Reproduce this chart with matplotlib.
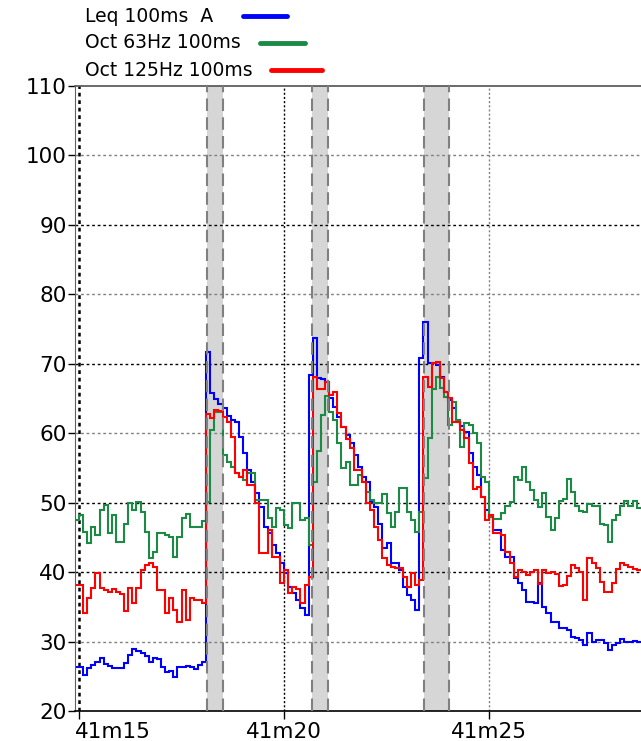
import numpy as np
import matplotlib.pyplot as plt
import matplotlib.transforms as mtransforms
from matplotlib.lines import Line2D

plt.rcParams['font.family'] = ['DejaVu Sans']

# 100 ms steps, time in seconds after 41m00
t0 = 14.9
dt = 0.1

leq_a = [26.3, 26.3, 25.2, 26.2, 26.6, 27.1, 27.6, 26.8, 26.5, 26.2, 26.2, 26.2, 26.9, 28.1, 28.9, 28.6,
         28.4, 27.9, 27.1, 27.6, 27.5, 26.3, 25.6, 25.8, 24.9, 26.3, 26.3, 26.5, 26.3, 26.0, 26.6, 27.1,
         71.7, 65.8, 65.0, 64.2, 63.7, 62.5, 61.9, 61.6, 59.5, 57.2, 54.7, 53.0, 51.4, 49.4, 46.5, 45.6,
         43.9, 42.8, 41.3, 39.9, 37.9, 37.0, 36.0, 34.8, 33.8,
         68.4, 73.7, 68.0, 67.8, 67.4, 65.1, 63.8, 62.4, 60.9, 59.8, 58.6, 56.9, 55.2, 53.7, 53.0, 50.1,
         49.4, 47.0, 43.5, 44.2, 41.3, 41.3, 40.3, 37.9, 36.7, 36.0, 34.6,
         70.9, 76.0, 70.1, 70.1, 69.8, 68.1, 66.0, 64.8, 63.7, 61.6, 61.0, 60.2, 57.2, 55.2, 54.0, 50.8,
         49.0, 48.0, 46.1, 46.1, 43.2, 42.2, 42.2, 39.2, 38.4, 37.4, 35.7, 35.7, 35.5, 38.5, 35.0, 34.1,
         32.8, 32.8, 32.0, 32.0, 31.7, 30.7, 30.5, 30.2, 29.5, 31.2, 30.0, 30.2, 30.2, 29.8, 28.8, 29.5,
         29.8, 30.3, 30.0, 29.9, 30.1, 30.0]

oct63 = [47.5, 48.2, 45.8, 44.2, 46.5, 45.4, 49.0, 49.6, 45.6, 48.2, 44.4, 44.4, 47.0, 50.0, 49.0, 50.1,
         48.7, 45.8, 42.0, 42.9, 45.6, 45.6, 45.4, 45.0, 42.2, 45.1, 47.8, 48.3, 46.5, 46.5, 46.5, 47.3,
         50.1, 60.5, 63.1, 63.0, 56.9, 55.9, 55.2, 54.3, 53.7, 53.3, 54.3, 54.3, 50.4, 50.4, 50.4, 47.8,
         46.5, 49.2, 49.0, 46.8, 46.4, 50.0, 50.0, 47.5, 47.8,
         43.9, 53.0, 57.5, 62.6, 65.3, 63.0, 61.9, 58.6, 55.0, 55.8, 52.6, 52.5, 54.0, 53.0, 51.5, 50.4,
         50.0, 50.0, 51.2, 48.5, 46.5, 48.7, 52.1, 52.1, 48.7, 47.5, 45.8,
         48.7, 53.5, 59.3, 66.3, 68.1, 66.5, 65.2, 61.2, 64.5, 61.9, 58.0, 61.5, 61.2, 60.1, 58.6, 53.7,
         53.0, 48.0, 47.6, 47.6, 48.5, 49.5, 50.1, 53.7, 53.3, 55.2, 53.0, 51.8, 50.4, 49.4, 51.4, 48.0,
         46.1, 47.8, 50.2, 50.6, 53.4, 51.6, 49.5, 48.8, 48.6, 49.8, 49.5, 49.5, 47.0, 46.8, 44.3, 47.5,
         48.2, 49.5, 50.3, 49.5, 50.3, 49.3]

oct125 = [38.2, 38.2, 34.1, 36.3, 37.7, 39.9, 37.7, 37.4, 37.1, 37.5, 37.1, 36.8, 34.4, 37.7, 35.6, 37.7,
          40.3, 41.0, 41.3, 40.8, 37.4, 37.4, 34.1, 36.3, 34.6, 32.8, 37.4, 33.1, 36.3, 36.0, 36.0, 35.6,
          62.7, 62.2, 63.4, 63.2, 62.4, 61.6, 59.5, 54.3, 53.7, 54.7, 52.6, 52.6, 50.0, 42.8, 42.8, 46.1,
          42.2, 42.2, 38.4, 40.3, 37.0, 37.9, 37.5, 35.6, 38.2,
          39.3, 68.1, 66.3, 66.3, 67.4, 65.5, 66.0, 62.9, 60.9, 59.1, 57.9, 54.7, 54.7, 53.0, 50.0, 49.0,
          46.5, 44.6, 42.0, 41.0, 40.8, 40.6, 40.6, 39.3, 37.9, 39.9, 38.2,
          38.8, 68.1, 66.7, 70.1, 70.3, 68.0, 66.0, 65.1, 61.6, 61.6, 60.5, 59.3, 55.7, 52.0, 52.3, 50.8,
          47.5, 48.2, 45.6, 45.6, 45.3, 42.9, 41.3, 39.3, 40.3, 40.0, 39.6, 40.0, 40.3, 38.3, 40.3, 39.9,
          40.0, 39.8, 38.0, 38.2, 39.5, 41.0, 40.6, 40.0, 36.0, 42.0, 41.3, 40.6, 38.6, 37.2, 37.2, 38.5,
          40.5, 41.3, 41.0, 40.7, 40.4, 40.3]

series_names = ['Leq 100ms  A', 'Oct 63Hz 100ms', 'Oct 125Hz 100ms']
series_colors = ['#0000ff', '#1b8a45', '#ff0000']

# marked events (start, end) in seconds
events = [(18.12, 18.51), (20.68, 21.07), (23.42, 24.02)]

yticks = [20, 30, 40, 50, 60, 70, 80, 90, 100, 110]
xticks = [15, 20, 25]
xlabels = ['41m15', '41m20', '41m25']

W, H = 641, 741
fig = plt.figure(figsize=(W / 100, H / 100), dpi=100)
ax = fig.add_axes([75 / W, 30 / H, 566 / W, 625 / H])

# horizontal grid
for y in yticks[1:-1]:
    c = 'black' if y in (40, 50, 70, 90) else '#808080'
    ax.axhline(y, color=c, ls=(0, (2, 2)), lw=1, zorder=1)
# vertical grid
ax.axvline(15, color='black', ls=(0, (1.5, 1.5)), lw=1.8, zorder=1)
ax.axvline(20, color='black', ls=(0, (1.5, 1.5)), lw=1, zorder=1)
ax.axvline(25, color='#808080', ls=(0, (1.5, 1.5)), lw=1, zorder=1)

for a, b in events:
    ax.axvspan(a, b, color='#d6d6d6', lw=0, zorder=0.5)

data = [leq_a, oct63, oct125]
for vals, c in zip(data, series_colors):
    edges = t0 + dt * np.arange(len(vals) + 1)
    ax.stairs(vals, edges, color=c, lw=1.5, baseline=None, zorder=2)

for a, b in events:
    ax.axvline(a, color='#808080', ls=(0, (6, 3)), lw=1.5, zorder=3)
    ax.axvline(b, color='#808080', ls=(0, (6, 3)), lw=1.5, zorder=3)

ax.set_xlim(14.9, 14.9 + 566 / 41)
ax.set_ylim(20, 110)
ax.set_yticks(yticks)
ax.set_xticks(xticks)
ax.set_xticklabels(xlabels)
ax.tick_params(axis='y', length=5, width=1, pad=1, labelsize=15.5)
ax.tick_params(axis='x', length=6, width=1, pad=2, labelsize=15.5)
lab0 = ax.get_xticklabels()[0]
lab0.set_horizontalalignment('left')
lab0.set_transform(lab0.get_transform() +
                   mtransforms.ScaledTranslation(-4 / 100, 0, fig.dpi_scale_trans))

ax.spines['right'].set_visible(False)
ax.spines['left'].set_color('#606060')
ax.spines['top'].set_color('#505050')
ax.spines['top'].set_linewidth(1.2)
ax.spines['bottom'].set_linewidth(1.2)

# legend at the top
rows_y = [16, 43, 70]
line_x = [(243, 287), (260, 305), (271, 322)]
for name, c, ry, (x1, x2) in zip(series_names, series_colors, rows_y, line_x):
    fig.text(85 / W, 1 - ry / H, name, fontsize=13.5, va='center', ha='left')
    fig.add_artist(Line2D([x1 / W, x2 / W], [1 - ry / H, 1 - ry / H], color=c, lw=3.5,
                          solid_capstyle='round', transform=fig.transFigure))

plt.savefig('out.png', dpi=100)
